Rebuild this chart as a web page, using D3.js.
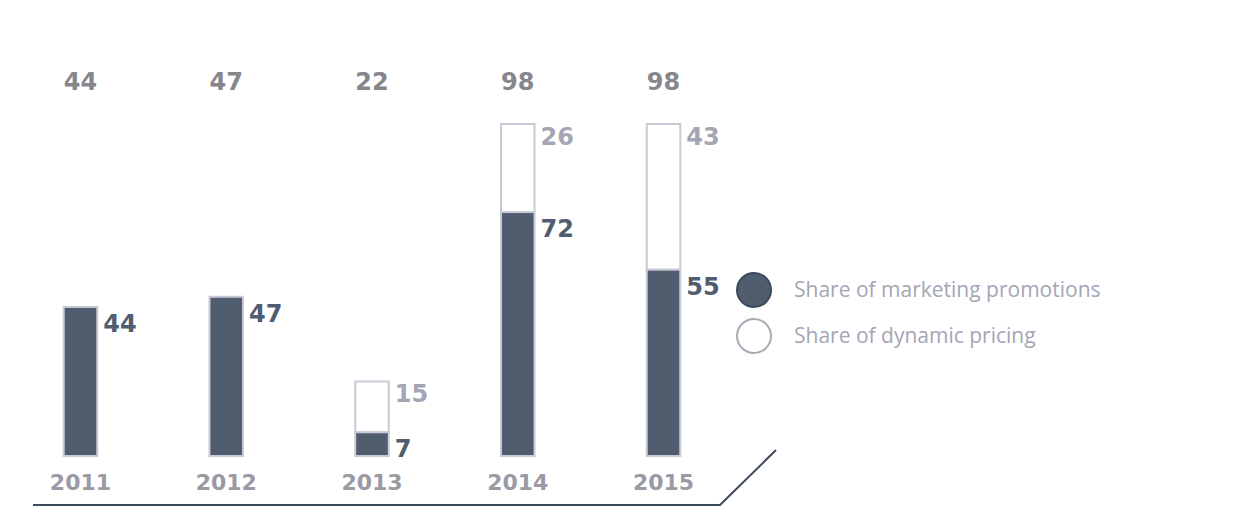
<!DOCTYPE html>
<html><head><meta charset="utf-8">
<script src="https://cdn.jsdelivr.net/npm/d3@7"></script>
<style>body{margin:0;background:#fff}svg{font-family:"DejaVu Sans",sans-serif}</style>
</head><body><svg id="c" width="1257" height="519"></svg>
<script>
const years = ["2011", "2012", "2013", "2014", "2015"];
const promotions = [44, 47, 7, 72, 55];
const dynamicPricing = [0, 0, 15, 26, 43];
const totals = [44, 47, 22, 98, 98];

const dark = "#505d6f", light = "#a4a6b4", edge = "#c9cad6";
const svg = d3.select("#c");

const x = d3.scaleBand().domain(years).range([20, 724]).paddingInner(0.77).paddingOuter(0.3);
const y = d3.scaleLinear().domain([0, 98]).range([456, 124]);
const bw = x.bandwidth();

years.forEach((yr, i) => {
  const x0 = x(yr);
  const p = promotions[i], d = dynamicPricing[i];
  // dynamic pricing segment (outline)
  if (d > 0) {
    svg.append("rect").attr("x", x0).attr("y", y(p + d)).attr("width", bw)
      .attr("height", y(p) - y(p + d)).attr("fill", "#fff").attr("stroke", edge).attr("stroke-width", 2);
    svg.append("text").attr("x", x0 + bw + 6).attr("y", y(p + d) + 21).text(d)
      .attr("fill", light).attr("font-size", 24).attr("font-weight", "bold");
  }
  svg.append("rect").attr("x", x0).attr("y", y(p)).attr("width", bw)
    .attr("height", y(0) - y(p)).attr("fill", dark).attr("stroke", edge).attr("stroke-width", 2);
  svg.append("text").attr("x", x0 + bw + 6).attr("y", y(p) + 25).text(p)
    .attr("fill", dark).attr("font-size", 24).attr("font-weight", "bold");
  svg.append("text").attr("x", x0 + bw / 2).attr("y", 90).attr("text-anchor", "middle").text(totals[i])
    .attr("fill", "#86868c").attr("font-size", 24).attr("font-weight", "bold");
  svg.append("text").attr("x", x0 + bw / 2).attr("y", 490).attr("text-anchor", "middle").text(yr)
    .attr("fill", "#9a9aa4").attr("font-size", 22).attr("font-weight", "bold");
});

svg.append("path").attr("d", "M33,505 L720,505 L776,450").attr("fill", "none")
  .attr("stroke", "#3c4a5c").attr("stroke-width", 2);

const legend = [["Share of marketing promotions", dark, "#505d6f"], ["Share of dynamic pricing", "#fff", edge]];
legend.forEach(([t, f, s], i) => {
  const cy = 290 + i * 46;
  svg.append("circle").attr("cx", 754).attr("cy", cy).attr("r", 17).attr("fill", f)
    .attr("stroke", i === 0 ? "#3c4a5c" : "#a8aab8").attr("stroke-width", 2);
  svg.append("text").attr("x", 794).attr("y", cy + 7).text(t).attr("fill", "#a4a6b4").attr("font-size", 21)
    .attr("font-family", "'Open Sans', sans-serif");
});
</script></body></html>
